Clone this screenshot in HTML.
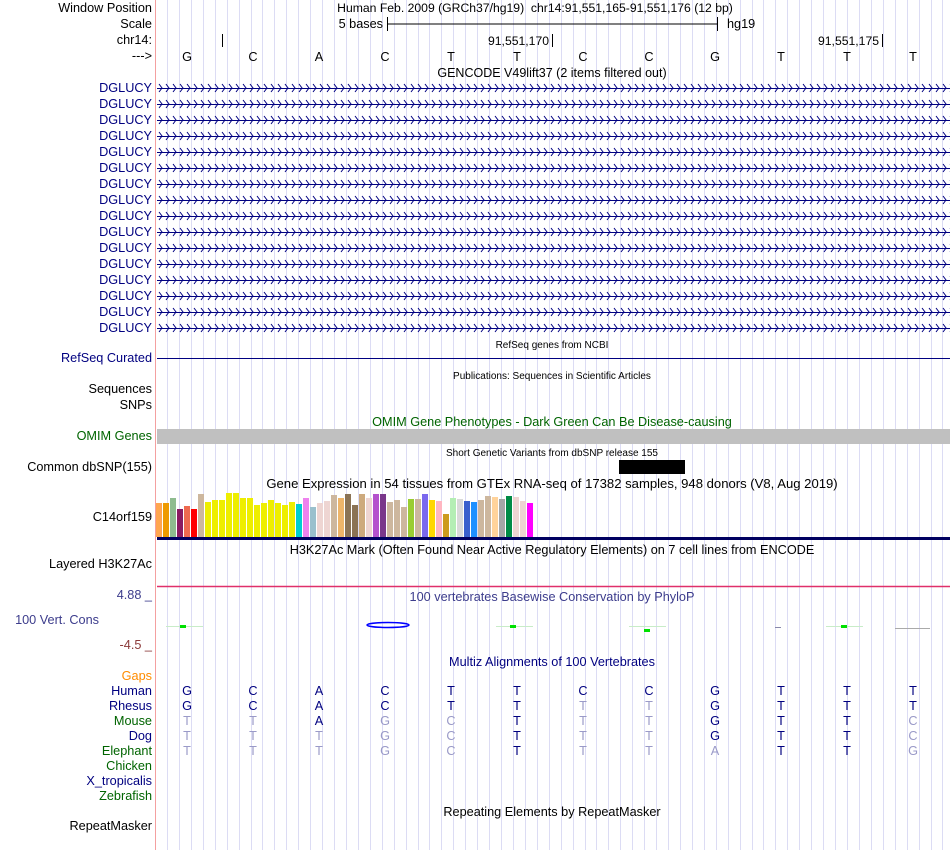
<!DOCTYPE html>
<html><head><meta charset="utf-8"><style>
body{margin:0;background:#fff;}
svg{display:block;font-family:"Liberation Sans",sans-serif;}
text{white-space:pre;}
</style></head><body>
<svg width="950" height="850">
<defs>
<pattern id="chev" x="157" y="0" width="7" height="16" patternUnits="userSpaceOnUse">
<path d="M2 4 L5 8 L2 12" fill="none" stroke="#000080" stroke-width="1"/>
</pattern>
</defs>
<g id="grid"></g>
<line x1="155.5" y1="0" x2="155.5" y2="850" stroke="#f4a0a0"/>
<g id="labels" font-size="12.7" text-anchor="end"></g>
<g id="titles" text-anchor="middle"></g>
<g id="tracks"></g>
</svg>
<script>
const NS='http://www.w3.org/2000/svg';
const bases=['G','C','A','C','T','T','C','C','G','T','T','T'];
const gtexHeights=[34,34,39,28,31,28,43,35,37,37,44,44,39,39,32,34,37,34,32,35,33,39,30,34,36,42,39,43,32,43,39,43,43,35,37,30,38,38,43,37,36,23,39,38,36,35,37,41,40,38,41,40,36,34];
const gtexColors=['#FFA54F','#EE9A00','#8FBC8F','#8B1C62','#EE6A50','#FF0000','#CDB79E','#EEEE00','#EEEE00','#EEEE00','#EEEE00','#EEEE00','#EEEE00','#EEEE00','#EEEE00','#EEEE00','#EEEE00','#EEEE00','#EEEE00','#EEEE00','#00CED1','#EE82EE','#9AC0CD','#EED5D2','#EED5D2','#CDB79E','#EEB56A','#8B7355','#8B7355','#CDAA7D','#EED5D2','#B452CD','#7A378B','#CDB79E','#CDB79E','#CDB79E','#9ACD32','#CDB79E','#7B68EE','#FFD700','#FFB6C1','#CD9B1D','#B4EEB4','#D9D9D9','#3A5FCD','#1E90FF','#CDB79E','#CDB79E','#FFD39B','#A6A6A6','#008B45','#EED5D2','#EED5D2','#FF00FF'];
const multizSpecies=['Human','Rhesus','Mouse','Dog','Elephant'];
const multizSeqs=['GCACTTCCGTTT','GCACTTTTGTTT','TTAGCTTTGTTC','TTTGCTTTGTTC','TTTGCTTTATTG'];
const multizDark=['111111111111','111111001111','001001001110','000001001110','000001000110'];
function el(tag,attrs,parent,text){const e=document.createElementNS(NS,tag);for(const k in attrs)e.setAttribute(k,attrs[k]);if(text!==undefined)e.textContent=text;(parent||document.querySelector('svg')).appendChild(e);return e;}
const baseX=i=>187+66*i;
const g=document.getElementById('grid');
for(let x=167;x<950;x+=11.93){el('line',{x1:Math.round(x)+.5,y1:0,x2:Math.round(x)+.5,y2:850,stroke:'#dcdcf4'},g);}
const L=document.getElementById('labels');
const labels=[['Window Position',12,'#000'],['Scale',28,'#000'],['chr14:',44,'#000'],['--->',60,'#000'],['RefSeq Curated',362,'#000080'],['Sequences',393,'#000'],['SNPs',409,'#000'],['OMIM Genes',440,'#006400'],['Common dbSNP(155)',471,'#000'],['C14orf159',521,'#000'],['Layered H3K27Ac',568,'#000'],['Gaps',680,'#FF8C00'],['Human',695,'#000080'],['Rhesus',710,'#000080'],['Mouse',725,'#006400'],['Dog',740,'#000080'],['Elephant',755,'#006400'],['Chicken',770,'#006400'],['X_tropicalis',785,'#000080'],['Zebrafish',800,'#006400'],['RepeatMasker',830,'#000']];
labels.forEach(l=>{const t=el('text',{x:152,y:l[1],fill:l[2]},L,l[0]);});
for(let i=0;i<16;i++){const t=el('text',{x:152,y:92+16*i,fill:'#000080'},L,'DGLUCY');}
el('text',{x:99,y:624,fill:'#3c3c8c','text-anchor':'end'},L,'100 Vert. Cons');
el('text',{x:152,y:599,fill:'#3c3c8c'},L,'4.88 _');
el('text',{x:152,y:649,fill:'#8b3a3a'},L,'-4.5 _');
const T=document.getElementById('titles');
const titles=[['Human Feb. 2009 (GRCh37/hg19)  chr14:91,551,165-91,551,176 (12 bp)',535,12,12.2,'#000'],['GENCODE V49lift37 (2 items filtered out)',552,77,12.5,'#000'],['RefSeq genes from NCBI',552,348,10,'#000'],['Publications: Sequences in Scientific Articles',552,379,10,'#000'],['OMIM Gene Phenotypes - Dark Green Can Be Disease-causing',552,426,12.7,'#006400'],['Short Genetic Variants from dbSNP release 155',552,456,10,'#000'],['Gene Expression in 54 tissues from GTEx RNA-seq of 17382 samples, 948 donors (V8, Aug 2019)',552,488,13.1,'#000'],['H3K27Ac Mark (Often Found Near Active Regulatory Elements) on 7 cell lines from ENCODE',552,554,12.7,'#000'],['100 vertebrates Basewise Conservation by PhyloP',552,601,12.7,'#3c3c8c'],['Multiz Alignments of 100 Vertebrates',552,666,12.7,'#000080'],['Repeating Elements by RepeatMasker',552,816,12.7,'#000']];
titles.forEach(t=>{const e=el('text',{x:t[1],y:t[2],'font-size':t[3],fill:t[4]},T,t[0]);});
const K=document.getElementById('tracks');
el('text',{x:383,y:28,'font-size':12.7,'text-anchor':'end'},K,'5 bases');
el('line',{x1:387.5,y1:17,x2:387.5,y2:31,stroke:'#000'},K);
el('line',{x1:717.5,y1:17,x2:717.5,y2:31,stroke:'#000'},K);
el('line',{x1:387,y1:24,x2:717,y2:24,stroke:'#000'},K);
el('text',{x:727,y:28,'font-size':12.7},K,'hg19');
el('line',{x1:222.5,y1:34,x2:222.5,y2:47,stroke:'#000'},K);
el('line',{x1:552.5,y1:34,x2:552.5,y2:47,stroke:'#000'},K);
el('line',{x1:882.5,y1:34,x2:882.5,y2:47,stroke:'#000'},K);
el('text',{x:549,y:45,'font-size':12.2,'text-anchor':'end'},K,'91,551,170');
el('text',{x:879,y:45,'font-size':12.2,'text-anchor':'end'},K,'91,551,175');
bases.forEach((b,i)=>{const t=el('text',{x:baseX(i),y:61,'font-size':12.7,'text-anchor':'middle'},K,b);});
for(let i=0;i<16;i++){const y=80+16*i;const r=el('rect',{x:157,y:y,width:793,height:16,fill:'url(#chev)'},K);el('line',{x1:157,y1:y+8.5,x2:950,y2:y+8.5,stroke:'#000080'},K);}
el('line',{x1:157,y1:358.5,x2:950,y2:358.5,stroke:'#000080'},K);
el('rect',{x:157,y:429,width:793,height:15,fill:'#c0c0c0'},K);
el('rect',{x:619,y:460,width:66,height:14,fill:'#000'},K);
const baseY=537;
gtexHeights.forEach((h,i)=>{const r=el('rect',{x:156+7*i,y:baseY-h,width:6,height:h,fill:gtexColors[i]},K);});
el('rect',{x:157,y:537,width:793,height:3,fill:'#000060'},K);
el('line',{x1:157,y1:586.5,x2:950,y2:586.5,stroke:'#e0306a','stroke-width':1.5},K);
[[166,203,183,625],[496,533,513,625],[629,666,647,629],[826,863,844,625]].forEach(p=>{el('line',{x1:p[0],y1:626.5,x2:p[1],y2:626.5,stroke:'#c8ecc8'},K);el('rect',{x:p[2]-3,y:p[3],width:6,height:3,fill:'#00e000'},K);});
el('line',{x1:775,y1:627.5,x2:781,y2:627.5,stroke:'#8888aa'},K);
el('line',{x1:895,y1:628.5,x2:930,y2:628.5,stroke:'#aaaaaa'},K);
el('ellipse',{cx:388,cy:625,rx:21,ry:2.5,fill:'none',stroke:'#0000ff','stroke-width':1.5},K);
multizSeqs.forEach((s,r)=>{for(let i=0;i<12;i++){const d=multizDark[r][i]==='1';const t=el('text',{x:baseX(i),y:695+15*r,'font-size':12.7,'text-anchor':'middle',fill:d?'#000080':'#9a9ac8'},K,s[i]);}});
</script>
</body></html>
